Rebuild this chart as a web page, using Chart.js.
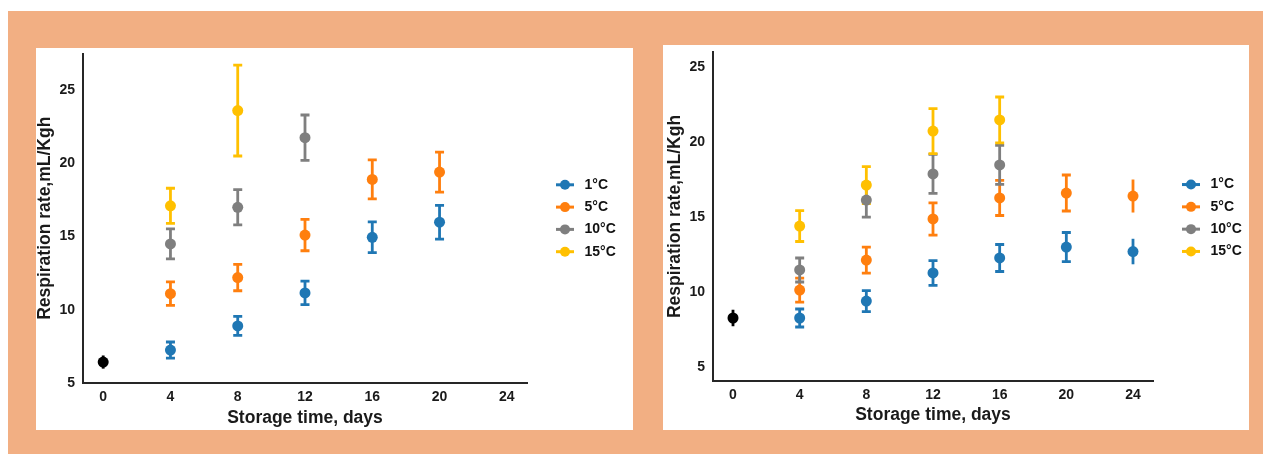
<!DOCTYPE html>
<html>
<head>
<meta charset="utf-8">
<script src="https://cdn.jsdelivr.net/npm/chart.js@4.4.1/dist/chart.umd.min.js"></script>
<style>
  body { margin: 0; background: #fff; width: 1263px; height: 454px; overflow: hidden; }
  .frame { position: absolute; left: 8px; top: 11px; width: 1255px; height: 443px; background: #F2AF83; }
  .panel { position: absolute; background: #fff; }
  #leftPanel { left: 36px; top: 48px; width: 597px; height: 382px; }
  #rightPanel { left: 663px; top: 45px; width: 586px; height: 385px; }
</style>
</head>
<body>
<div class="frame"></div>
<div class="panel" id="leftPanel"><canvas id="leftChart"></canvas></div>
<div class="panel" id="rightPanel"><canvas id="rightChart"></canvas></div>
<script>
// Shared labels
const temperatures = ['1°C', '5°C', '10°C', '15°C'];
const colors = ['#1F77B4', '#FF7F0E', '#7F7F7F', '#FFC000'];
const xTicks = [0, 4, 8, 12, 16, 20, 24];
const yTicks = [5, 10, 15, 20, 25];

// Left chart (mL/Kgh), storage days 4..20, null = not measured
const leftDays = [4, 8, 12, 16, 20];
const leftInitial = 6.43, leftInitialErr = 0.45;
const left1 = [7.25, 8.9, 11.15, 14.95, 15.98];
const left1Err = [0.55, 0.65, 0.8, 1.05, 1.15];
const left5 = [11.1, 12.2, 15.1, 18.9, 19.4];
const left5Err = [0.8, 0.9, 1.07, 1.33, 1.36];
const left10 = [14.5, 17.0, 21.75, null, null];
const left10Err = [1.02, 1.2, 1.55, null, null];
const left15 = [17.1, 23.6, null, null, null];
const left15Err = [1.2, 3.1, null, null, null];

// Right chart, storage days 4..24
const rightDays = [4, 8, 12, 16, 20, 24];
const rightInitial = 8.27, rightInitialErr = 0.55;
const right1 = [8.27, 9.4, 11.27, 12.27, 13.0, 12.7];
const right1Err = [0.6, 0.7, 0.83, 0.9, 0.97, 0.85];
const right5 = [10.13, 12.13, 14.87, 16.27, 16.6, 16.4];
const right5Err = [0.8, 0.87, 1.07, 1.17, 1.2, 1.1];
const right10 = [11.47, 16.13, 17.87, 18.47, null, null];
const right10Err = [0.8, 1.13, 1.3, 1.3, null, null];
const right15 = [14.4, 17.13, 20.73, 21.47, null, null];
const right15Err = [1.03, 1.23, 1.5, 1.53, null, null];

Chart.defaults.font.family = '"Liberation Sans", Arial, sans-serif';
Chart.defaults.font.weight = 'bold';
Chart.defaults.color = '#1a1a1a';

function points(days, vals, errs) {
    const out = [];
    days.forEach((d, i) => {
        if (vals[i] !== null) out.push({ x: d, y: vals[i], e: errs[i] });
    });
    return out;
}

// vertical error bars with caps
const errorBars = {
    id: 'errorBars',
    beforeDatasetsDraw(chart, args, opts) {
        const { ctx } = chart;
        const yScale = chart.scales.y;
        chart.data.datasets.forEach((ds, i) => {
            const meta = chart.getDatasetMeta(i);
            ctx.save();
            ctx.strokeStyle = ds.borderColor;
            ctx.lineWidth = 2.8;
            meta.data.forEach((el, j) => {
                const p = ds.data[j];
                const top = yScale.getPixelForValue(p.y + p.e);
                const bot = yScale.getPixelForValue(p.y - p.e);
                ctx.beginPath();
                ctx.moveTo(el.x, top);
                ctx.lineTo(el.x, bot);
                const noCap = ds.noCaps || (opts.noCapAt || []).includes(p.x);
                if (!noCap) {
                    ctx.moveTo(el.x - 4.5, top);
                    ctx.lineTo(el.x + 4.5, top);
                    ctx.moveTo(el.x - 4.5, bot);
                    ctx.lineTo(el.x + 4.5, bot);
                }
                ctx.stroke();
            });
            ctx.restore();
        });
    }
};

// legend at the right, centred on the plot area
const sideLegend = {
    id: 'sideLegend',
    afterDraw(chart, args, opts) {
        const { ctx, chartArea } = chart;
        const items = chart.data.datasets.filter(d => d.label);
        const cy = (chartArea.top + chartArea.bottom) / 2 + (opts.shift || 0);
        ctx.save();
        ctx.font = 'bold 14px "Liberation Sans", Arial, sans-serif';
        ctx.textBaseline = 'middle';
        items.forEach((d, i) => {
            const y = cy + (i - (items.length - 1) / 2) * 22.3;
            const x = chartArea.right + 29;
            ctx.strokeStyle = d.borderColor;
            ctx.fillStyle = d.backgroundColor;
            ctx.lineWidth = 3;
            ctx.beginPath();
            ctx.moveTo(x, y);
            ctx.lineTo(x + 18, y);
            ctx.stroke();
            ctx.beginPath();
            ctx.arc(x + 9, y, 5, 0, Math.PI * 2);
            ctx.fill();
            ctx.fillStyle = '#111';
            ctx.fillText(d.label, x + 28.5, y);
        });
        ctx.restore();
    }
};

function noPad(s) {
    s.paddingTop = 0; s.paddingBottom = 0; s.paddingLeft = 0; s.paddingRight = 0;
}

function buildChart(id, cfg) {
    const series = cfg.series.map((s, k) => ({
        label: temperatures[k],
        data: points(cfg.days, s[0], s[1]),
        borderColor: colors[k],
        backgroundColor: colors[k],
        pointRadius: 5.5,
        pointBorderWidth: 0
    }));
    series.unshift({
        label: '',
        data: [{ x: 0, y: cfg.initial[0], e: cfg.initial[1] }],
        borderColor: '#000',
        backgroundColor: '#000',
        pointRadius: 5.5,
        pointBorderWidth: 0,
        noCaps: true
    });
    return new Chart(document.getElementById(id), {
        type: 'scatter',
        data: { datasets: series },
        plugins: [errorBars, sideLegend],
        options: {
            responsive: true,
            maintainAspectRatio: false,
            animation: false,
            layout: { padding: cfg.padding },
            plugins: {
                legend: { display: false },
                tooltip: { enabled: false },
                errorBars: { noCapAt: cfg.noCapAt || [] },
                sideLegend: { shift: cfg.legendShift || 0 }
            },
            scales: {
                x: {
                    type: 'linear',
                    min: -1.2,
                    max: 25.2,
                    afterBuildTicks: s => { s.ticks = xTicks.map(v => ({ value: v })); },
                    afterFit: s => { s.height = cfg.xHeight; noPad(s); },
                    grid: { display: false, drawTicks: false },
                    border: { display: true, color: '#262626', width: 2 },
                    ticks: { padding: 5.5, font: { size: 14, weight: 'bold' }, color: '#1a1a1a' },
                    title: {
                        display: true,
                        text: 'Storage time, days',
                        font: { size: 17.5, weight: 'bold' },
                        color: '#1a1a1a',
                        padding: { top: 0, bottom: 0 }
                    }
                },
                y: {
                    min: cfg.yMin,
                    max: cfg.yMax,
                    afterBuildTicks: s => { s.ticks = yTicks.map(v => ({ value: v })); },
                    afterFit: s => { s.width = cfg.yWidth; noPad(s); },
                    grid: { display: false, drawTicks: false },
                    border: { display: true, color: '#262626', width: 2 },
                    ticks: { padding: 8, font: { size: 14, weight: 'bold' }, color: '#1a1a1a' },
                    title: {
                        display: true,
                        text: 'Respiration rate,mL/Kgh',
                        font: { size: 17.5, weight: 'bold' },
                        color: '#1a1a1a',
                        padding: { top: cfg.yTitlePad, bottom: 0 }
                    }
                }
            }
        }
    });
}

buildChart('leftChart', {
    days: leftDays,
    initial: [leftInitial, leftInitialErr],
    series: [[left1, left1Err], [left5, left5Err], [left10, left10Err], [left15, left15Err]],
    yMin: 5, yMax: 27.5,
    padding: { left: 0, top: 0, right: 106, bottom: 1.5 },
    xHeight: 45.5, yWidth: 47, yTitlePad: -1.5
});

buildChart('rightChart', {
    days: rightDays,
    initial: [rightInitial, rightInitialErr],
    series: [[right1, right1Err], [right5, right5Err], [right10, right10Err], [right15, right15Err]],
    yMin: 4.07, yMax: 26.0,
    padding: { left: 1.5, top: 7, right: 96, bottom: 4.5 },
    xHeight: 44.5, yWidth: 48.5, yTitlePad: 0,
    noCapAt: [24], legendShift: 1.5
});
</script>
</body>
</html>
